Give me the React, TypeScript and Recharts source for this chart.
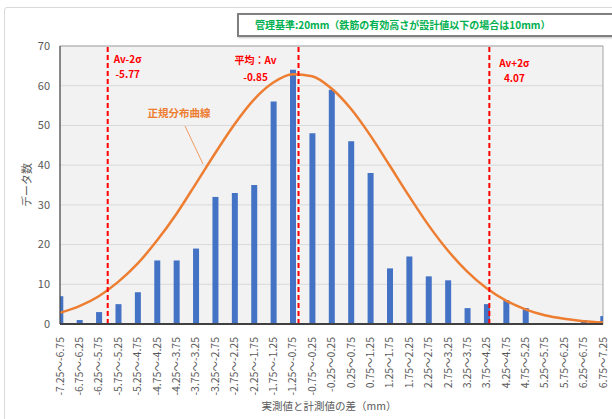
import {
  ComposedChart,
  Bar,
  Line,
  XAxis,
  YAxis,
  CartesianGrid,
  ReferenceLine,
  ReferenceArea,
} from "recharts";

// bin centres (mm) and their labels
const binMids = [
  -7, -6.5, -6, -5.5, -5, -4.5, -4, -3.5, -3, -2.5, -2, -1.5, -1, -0.5, 0,
  0.5, 1, 1.5, 2, 2.5, 3, 3.5, 4, 4.5, 5, 5.5, 6, 6.5, 7,
];
const binLabels = [
  "-7.25～-6.75", "-6.75～-6.25", "-6.25～-5.75", "-5.75～-5.25", "-5.25～-4.75",
  "-4.75～-4.25", "-4.25～-3.75", "-3.75～-3.25", "-3.25～-2.75", "-2.75～-2.25",
  "-2.25～-1.75", "-1.75～-1.25", "-1.25～-0.75", "-0.75～-0.25", "-0.25～0.25",
  "0.25～0.75", "0.75～1.25", "1.25～1.75", "1.75～2.25", "2.25～2.75",
  "2.75～3.25", "3.25～3.75", "3.75～4.25", "4.25～4.75", "4.75～5.25",
  "5.25～5.75", "5.75～6.25", "6.25～6.75", "6.75～7.25",
];
// データ数 per bin
const counts = [
  7, 1, 3, 5, 8, 16, 16, 19, 32, 33, 35, 56, 64, 48, 59, 46, 38, 14, 17, 12,
  11, 4, 5, 6, 4, 0, 0, 1, 2,
];
// 正規分布曲線, read at each bin centre
const normalCurve = [
  2.8, 4.5, 7.0, 10.6, 15.2, 21.0, 27.7, 35.3, 43.0, 50.3, 56.5, 60.8, 62.9,
  62.4, 59.3, 54.2, 47.5, 39.9, 32.2, 24.9, 18.5, 13.2, 9.0, 5.9, 3.7, 2.2,
  1.3, 0.7, 0.4,
];
const yTicks = [0, 10, 20, 30, 40, 50, 60, 70];

const refValues = [-5.77, -0.85, 4.07];
const refNames = ["Av-2σ", "平均：Av", "Av+2σ"];
const refTexts = ["-5.77", "-0.85", "4.07"];

// label placement relative to each red line (dx, baseline1, baseline2)
const refLabelPos = [
  { dx: 20, y1: 16.5, y2: 31.5 },
  { dx: -43, y1: 17.5, y2: 34.5 },
  { dx: 25, y1: 20.5, y2: 35.5 },
];

const FONT = '"Noto Sans CJK JP", "Noto Sans", sans-serif';

const data = binMids.map((m, i) => ({
  mid: m,
  count: counts[i],
  curve: normalCurve[i],
}));

const XTick = (props: any) => {
  const { x, y, payload } = props;
  const idx = binMids.indexOf(payload.value);
  return (
    <text
      x={x}
      y={y + 5}
      transform={`rotate(-90 ${x} ${y + 5})`}
      textAnchor="end"
      dy="0.35em"
      fontSize={10.5}
      fill="#595959"
      fontFamily={FONT}
    >
      {binLabels[idx]}
    </text>
  );
};

const RefLabel = (props: any) => {
  const { viewBox, pos, name, text } = props;
  const cx = viewBox.x + pos.dx;
  return (
    <g fontFamily={FONT} fontWeight="bold" fontSize={10} fill="#ff0000">
      <text x={cx} y={viewBox.y + pos.y1} textAnchor="middle">
        {name}
      </text>
      <text x={cx} y={viewBox.y + pos.y2} textAnchor="middle">
        {text}
      </text>
    </g>
  );
};

export default function App() {
  return (
    <div
      style={{
        position: "absolute",
        left: 0,
        top: 0,
        width: 612,
        height: 419,
        overflow: "hidden",
        background: "#fff",
        fontFamily: FONT,
      }}
    >
      <div
        style={{
          position: "absolute",
          left: 4,
          top: 7,
          width: 700,
          height: 500,
          border: "1px solid #d9d9d9",
          borderRadius: 3,
        }}
      />
      <div style={{ position: "absolute", left: 0, top: 0 }}>
        <ComposedChart
          width={612}
          height={419}
          data={data}
          margin={{ top: 46, right: 9, bottom: 35, left: 20 }}
        >
          <CartesianGrid
            vertical={false}
            stroke="#d9d9d9"
            fill="#f2f2f2"
            fillOpacity={1}
          />
          <ReferenceArea
            x1={-7}
            x2={7}
            y1={0}
            y2={70}
            fill="none"
            stroke="#a6a6a6"
            strokeWidth={1}
          />
          <XAxis
            dataKey="mid"
            type="number"
            domain={[-7, 7]}
            ticks={binMids}
            interval={0}
            allowDataOverflow
            height={60}
            tickLine={false}
            axisLine={{ stroke: "#404040", strokeWidth: 2 }}
            tick={<XTick />}
          />
          <YAxis
            type="number"
            domain={[0, 70]}
            ticks={yTicks}
            width={40}
            tickLine={false}
            tickSize={0}
            tickMargin={10}
            axisLine={{ stroke: "#404040", strokeWidth: 1 }}
            tick={{ fontSize: 11, fill: "#595959", fontFamily: FONT }}
          />
          <Bar
            dataKey="count"
            fill="#4472c4"
            barSize={6}
            isAnimationActive={false}
          />
          <Line
            type="monotone"
            dataKey="curve"
            stroke="#ed7d31"
            strokeWidth={2.5}
            dot={false}
            isAnimationActive={false}
          />
          {refValues.map((v, i) => (
            <ReferenceLine
              key={v}
              x={v}
              stroke="#ff0000"
              strokeWidth={2}
              strokeDasharray="5 3"
              label={
                <RefLabel
                  pos={refLabelPos[i]}
                  name={refNames[i]}
                  text={refTexts[i]}
                />
              }
            />
          ))}
        </ComposedChart>
      </div>
      <svg
        width={612}
        height={419}
        style={{ position: "absolute", left: 0, top: 0, pointerEvents: "none" }}
        fontFamily={FONT}
      >
        <text
          x={179}
          y={117}
          textAnchor="middle"
          fontSize={10.5}
          fontWeight="bold"
          fill="#ed7d31"
        >
          正規分布曲線
        </text>
        <line x1={185} y1={126} x2={203} y2={164} stroke="#ed7d31" strokeWidth={0.75} />
        <text
          x={27}
          y={185}
          transform="rotate(-90 27 185)"
          textAnchor="middle"
          dy="0.35em"
          fontSize={11}
          fill="#595959"
        >
          データ数
        </text>
        <text x={329} y={410} textAnchor="middle" fontSize={10.5} fill="#595959">
          実測値と計測値の差（mm）
        </text>
      </svg>
      <div
        style={{
          position: "absolute",
          left: 237,
          top: 13,
          width: 363,
          height: 20,
          border: "2px solid #808080",
          boxShadow: "1px 1px 2px rgba(0,0,0,0.25)",
          background: "#fff",
          color: "#00b050",
          fontWeight: "bold",
          fontSize: 10,
          lineHeight: "20px",
          paddingLeft: 16,
          boxSizing: "content-box",
          whiteSpace: "nowrap",
        }}
      >
        管理基準:20mm（鉄筋の有効高さが設計値以下の場合は10mm）
      </div>
    </div>
  );
}
